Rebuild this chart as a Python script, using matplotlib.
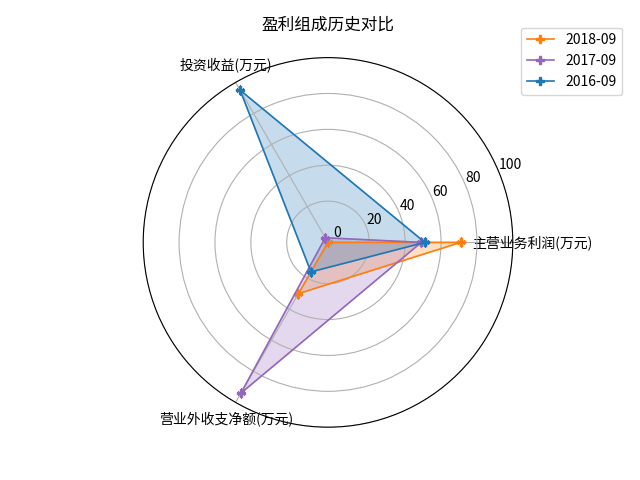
import numpy as np
import matplotlib
matplotlib.use('Agg')
from matplotlib import pyplot as plt

plt.rcParams['font.family'] = ['Noto Sans CJK SC', 'DejaVu Sans']
plt.rcParams['axes.unicode_minus'] = False

labels = ['主营业务利润(万元)', '投资收益(万元)', '营业外收支净额(万元)']
years = ['2018-09', '2017-09', '2016-09']
v2018 = [71, -3, 30]
v2017 = [49, 0, 94]
v2016 = [51, 95, 16]
colors = ['#ff7f0e', '#9467bd', '#1f77b4']

angles = np.linspace(0, 2 * np.pi, len(labels), endpoint=False)
ang = np.concatenate([angles, angles[:1]])

fig = plt.figure(figsize=(6.4, 4.8), dpi=100)
ax = fig.add_subplot(111, polar=True)

for name, vals, c in zip(years, [v2018, v2017, v2016], colors):
    v = np.concatenate([vals, vals[:1]])
    ax.plot(ang, v, marker='P', color=c, linewidth=1.2, label=name)
    ax.fill(ang, v, color=c, alpha=0.25)

ax.set_thetagrids(angles * 180 / np.pi, labels)
ax.set_ylim(-3, 100)
ax.set_rticks([0, 20, 40, 60, 80, 100])
ax.set_title('盈利组成历史对比', pad=20)
ax.legend(loc='upper right', bbox_to_anchor=(1.315, 1.1))

plt.savefig('out.png')
